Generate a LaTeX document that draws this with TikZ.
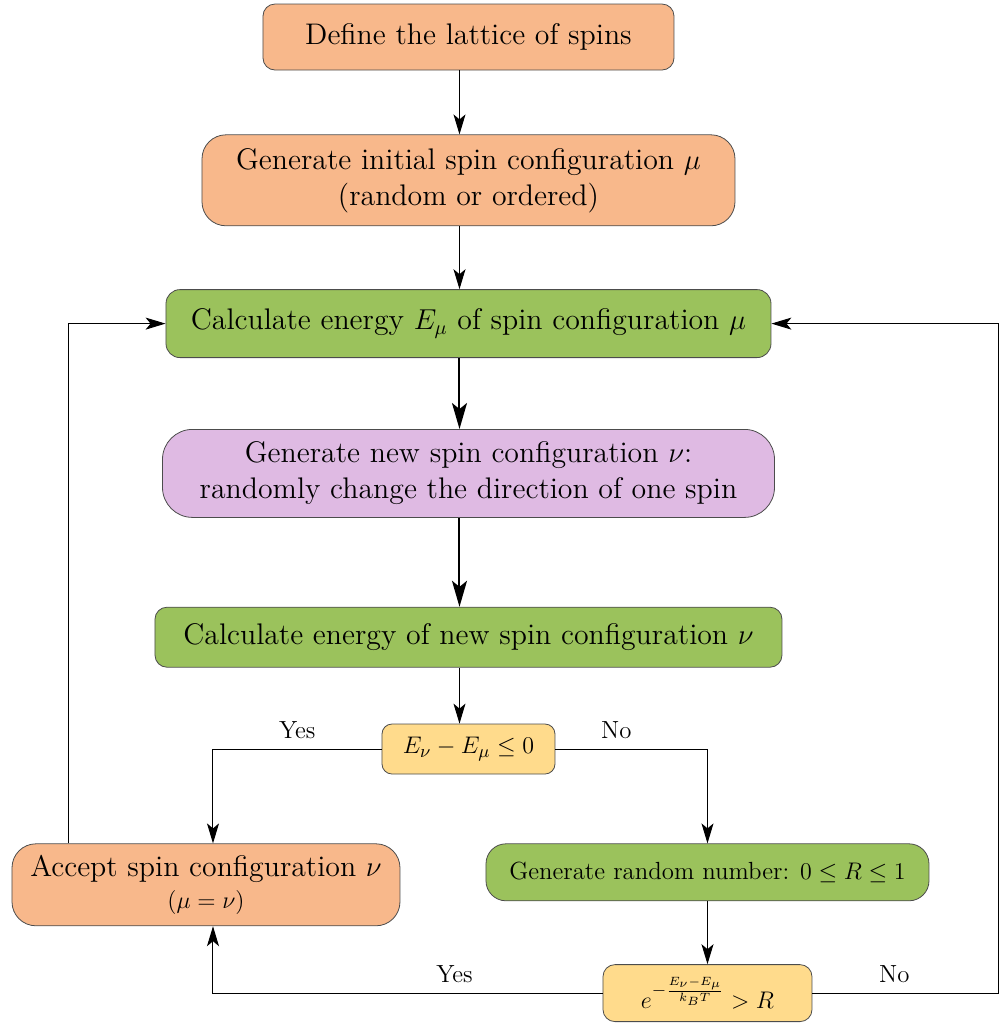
\documentclass[tikz,border=0pt]{standalone}
\usepackage{amsmath,amssymb}
\usepackage{tikz}
\usetikzlibrary{positioning,arrows.meta,calc}
\usepackage{xcolor}
\definecolor{boxorange}{RGB}{248,184,139}
\definecolor{boxgreen}{RGB}{155,194,92}
\definecolor{boxpurple}{RGB}{223,186,227}
\definecolor{boxyellow}{RGB}{255,219,140}
\newcommand{\bigtext}{\fontsize{14.9}{18}\selectfont}
\newcommand{\smalltext}{\fontsize{12.4}{15}\selectfont}
\tikzset{
  >=Stealth,
}

\begin{document}
\begin{tikzpicture}[
  box/.style={draw=black!70, line width=0.4pt, align=center, font=\bigtext, inner sep=2pt},
  orangebox/.style={box, fill=boxorange},
  greenbox/.style={box, fill=boxgreen},
  purplebox/.style={box, fill=boxpurple},
  yellowbox/.style={box, fill=boxyellow, font=\smalltext},
  arr/.style={-{Stealth[length=10pt, width=6pt, inset=2.5pt]}, line width=0.5pt},
  arrthick/.style={-{Stealth[length=13pt, width=7.5pt, inset=3pt]}, line width=1pt},
  lbl/.style={above=1.5pt, font=\smalltext}
]
  \useasboundingbox (-234.25pt,18.5pt) rectangle (266.75pt,-494pt);
  % main column
  \node[orangebox, rounded corners=6pt, minimum width=205.5pt, minimum height=33pt] (define) at (0,0) {Define the lattice of spins};
  \node[orangebox, rounded corners=12pt, minimum width=266.5pt, minimum height=45.5pt, below=32pt of define] (init) {Generate initial spin configuration $\mu$\\(random or ordered)};
  \node[greenbox, rounded corners=7pt, minimum width=302.5pt, minimum height=34pt, below=31.5pt of init] (calc) {Calculate energy $E_\mu$ of spin configuration $\mu$};
  \node[purplebox, rounded corners=15pt, minimum width=306pt, minimum height=44pt, below=35.5pt of calc] (newconf) {Generate new spin configuration $\nu$:\\randomly change the direction of one spin};
  \node[greenbox, rounded corners=6pt, minimum width=313.5pt, minimum height=30pt, below=44.5pt of newconf] (calcnew) {Calculate energy of new spin configuration $\nu$};
  \node[yellowbox, rounded corners=5pt, minimum width=86.5pt, minimum height=25pt, below=28pt of calcnew] (dec) {$E_\nu - E_\mu \leq 0$};
  % branches
  \node[orangebox, rounded corners=12pt, minimum width=194pt, minimum height=41pt, below=34.5pt of dec, xshift=-131.25pt] (accept) {Accept spin configuration $\nu$\\[-2pt]{\smalltext $(\mu=\nu)$}};
  \node[greenbox, font=\smalltext, rounded corners=10pt, minimum width=221.5pt, minimum height=28.5pt, below=34.5pt of dec, xshift=119.5pt] (random) {Generate random number: $0 \leq R \leq 1$};
  \node[yellowbox, rounded corners=6pt, minimum width=104.5pt, minimum height=28.5pt, inner sep=1pt, below=31.5pt of random] (test) {$e^{-\frac{E_\nu - E_\mu}{k_B T}} > R$};

  \draw[arr] ([xshift=-4.5pt]define.south) -- ([xshift=-4.5pt]init.north);
  \draw[arr] ([xshift=-4.5pt]init.south) -- ([xshift=-4.5pt]calc.north);
  \draw[arrthick] ([xshift=-4.5pt]calc.south) -- ([xshift=-4.5pt]newconf.north);
  \draw[arrthick] ([xshift=-4.5pt]newconf.south) -- ([xshift=-4.5pt]calcnew.north);
  \draw[arr] ([xshift=-4.5pt]calcnew.south) -- ([xshift=-4.5pt]dec.north);
  \draw[arr] (dec.west) -| node[lbl, pos=0.25] {Yes} ([xshift=3.5pt]accept.north);
  \draw[arr] (dec.east) -| node[lbl, pos=0.2] {No} (random.north);
  \draw[arr] (random.south) -- (test.north);
  \draw[arr] (test.west) -| node[lbl, pos=0.19] {Yes} ([xshift=3.5pt]accept.south);
  \draw[arr] (test.east) -- node[lbl, pos=0.44] {No} ++(93pt,0) |- (calc.east);
  \draw[arr] ([xshift=28.5pt]accept.north west) |- (calc.west);
\end{tikzpicture}
\end{document}
